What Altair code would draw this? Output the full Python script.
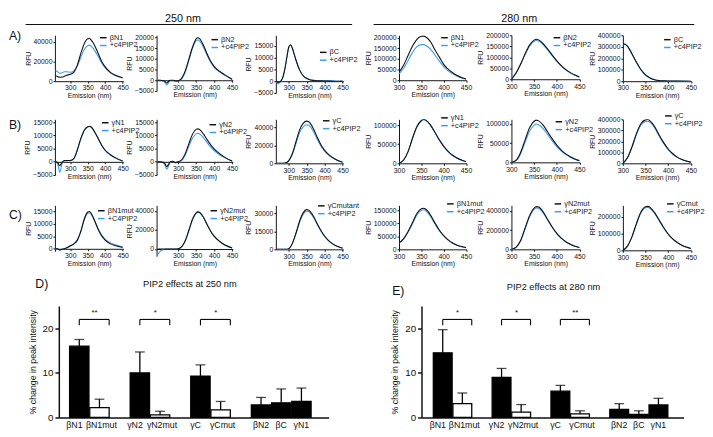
import altair as alt
import pandas as pd

FONT = "Liberation Sans"
BLACK = "#111111"
BLUE = "#3a9cf2"

HEADER_LABELS = ["250 nm", "280 nm"]
ROW_LABELS = ["A)", "B)", "C)", "D)", "E)"]
BAR_TITLES = ["PIP2 effects at 250 nm", "PIP2 effects at 280 nm"]
PIP = "+c4PIP2"
PIP_C = "+C4PIP2"
XTICKS = [300, 350, 400, 450]

# ---------------- spectra data (emission nm -> RFU) ----------------
G1 = [258, 264, 270, 276, 283, 290, 300, 310, 320, 330, 340, 350, 355, 360, 370, 380, 390, 400, 415, 430, 450]
G2 = [243, 250, 258, 264, 268, 272, 278, 285, 292, 300, 310, 320, 330, 340, 350, 355, 360, 370, 380, 390, 400, 415, 430, 450]
G3 = [265, 270, 275, 280, 285, 290, 295, 300, 305, 310, 315, 320, 330, 340, 350, 360, 370, 380, 400, 420, 435, 450]
G4 = [300, 310, 320, 330, 340, 350, 355, 360, 370, 380, 390, 400, 410, 420, 430, 440, 450]
G6 = [300, 305, 310, 315, 320, 330, 340, 350, 360, 370, 380, 390, 400, 420, 450]
G9 = [265, 275, 285, 292, 300, 310, 320, 330, 340, 350, 355, 360, 370, 380, 390, 400, 415, 430, 450]

P1_BLACK = [5700, 4500, 4000, 4200, 5000, 6000, 7000, 9000, 16000, 28000, 38000, 43000, 43200, 41500, 36000, 28000, 20000, 14500, 9000, 6000, 3500]
P1_BLUE = [11000, 9500, 8000, 8500, 9500, 9500, 9000, 10500, 15500, 24000, 32000, 36000, 36500, 35500, 31000, 25000, 18500, 13500, 8500, 5500, 3300]
P2_BLACK = [0, 0, -200, -600, -1300, -700, 0, 0, -300, -200, 1000, 4500, 10000, 15500, 19300, 19800, 19300, 16500, 12500, 9000, 6500, 4200, 2500, 500]
P2_BLUE = [0, 0, -300, -1200, -2200, -1500, -100, -100, -400, -300, 800, 4000, 9500, 15000, 18500, 18800, 18300, 15500, 11800, 8500, 6000, 3900, 2300, 400]
P3_BLACK = [0, -600, -300, 500, 2500, 6000, 10500, 14500, 15500, 14000, 11500, 9000, 4800, 2300, 1100, 500, 300, 200, 100, 0, 0, 0]
P3_BLUE = [0, -1200, -600, 300, 2300, 5800, 10300, 14300, 15400, 14000, 11600, 9100, 4900, 2400, 1300, 700, 400, 300, 200, 300, -100, 200]
P4_BLACK = [38000, 70000, 115000, 160000, 193000, 207000, 208000, 204000, 183000, 145000, 110000, 75000, 52000, 35000, 22000, 13000, 6000]
P4_BLUE = [30000, 55000, 92000, 130000, 158000, 168000, 168000, 164000, 148000, 120000, 91000, 64000, 44000, 30000, 20000, 11000, 6000]
P5_BLACK = [0, 28000, 68000, 115000, 155000, 178000, 182000, 179000, 162000, 137000, 110000, 84000, 62000, 44000, 30000, 19000, 10000]
P5_BLUE = [0, 27000, 66000, 112000, 151000, 173000, 176000, 174000, 158000, 133000, 107000, 82000, 60000, 43000, 29000, 18000, 9500]
P6_BLACK = [325000, 322000, 305000, 275000, 240000, 165000, 100000, 55000, 28000, 13000, 6000, 3000, 1500, 500, 0]
P6_BLUE = [323000, 320000, 303000, 273000, 238000, 163000, 99000, 54000, 27500, 13000, 6000, 3000, 1500, 500, 0]
P7_BLACK = [0, -300, -1500, -300, 500, 500, 500, 1200, 4500, 8800, 12000, 13300, 13500, 13200, 11300, 8800, 6300, 4400, 2700, 1500, 300]
P7_BLUE = [0, -800, -4000, -800, 300, 400, 500, 1100, 4300, 8600, 11800, 13200, 13400, 13100, 11200, 8700, 6200, 4300, 2600, 1400, 300]
P8_BLACK = [0, 0, -200, -800, -1800, -1200, 0, 200, -300, 0, 800, 3200, 7000, 10500, 12300, 12500, 12200, 10600, 8500, 6500, 4900, 3100, 1700, 300]
P8_BLUE = [0, 0, -300, -1500, -2800, -2000, -200, 200, -300, 0, 600, 2700, 6000, 9000, 10600, 10800, 10500, 9200, 7400, 5700, 4300, 2700, 1500, 250]
P9_BLACK = [0, 0, 0, 500, 3000, 11000, 24000, 37000, 44500, 47000, 46500, 44500, 37500, 28500, 20500, 14500, 8500, 4500, 1200]
P9_BLUE = [0, 0, 0, 400, 2800, 10000, 22000, 34000, 40500, 43000, 42700, 40800, 34500, 26200, 19000, 13500, 7800, 4200, 1100]
P10_BLACK = [0, 8000, 30000, 65000, 96000, 112000, 115000, 113000, 101000, 82000, 62000, 45000, 31000, 21000, 14000, 8500, 4500]
P10_BLUE = [0, 9000, 30000, 64000, 95000, 111000, 114000, 112000, 100000, 81000, 61000, 44000, 30000, 20500, 13500, 8000, 4300]
P11_BLACK = [0, 5000, 25000, 58000, 90000, 107000, 110000, 108000, 97000, 79000, 61000, 45000, 32000, 22000, 14500, 8500, 4500]
P11_BLUE = [0, 4500, 22000, 52000, 81000, 97000, 100000, 98000, 88000, 72000, 56000, 41000, 29000, 20000, 13500, 8000, 4200]
P12_BLACK = [0, 50000, 150000, 272000, 362000, 395000, 398000, 386000, 335000, 258000, 188000, 130000, 87000, 56000, 35000, 21000, 11000]
P12_BLUE = [0, 48000, 145000, 262000, 348000, 380000, 383000, 372000, 322000, 249000, 181000, 125000, 84000, 54000, 34000, 20000, 10500]
P13_BLACK = [0, 0, -400, -200, 0, 400, 1200, 2000, 3500, 7000, 12000, 14800, 15000, 14200, 11200, 7800, 5200, 3500, 2000, 1200, 500]
P13_BLUE = [0, -200, -600, -300, 0, 300, 1100, 1900, 3300, 6800, 11700, 14300, 14500, 13900, 11200, 8000, 5500, 3800, 2400, 1600, 800]
P14_BLACK = [0, 0, 0, 0, 0, 0, 0, 0, 0, 300, 2500, 9000, 20000, 31500, 38000, 39000, 38300, 33500, 26000, 19000, 13500, 8000, 4200, 1200]
P14_BLUE = [-6000, -2500, -500, 0, 0, 0, 0, 0, 0, 300, 2400, 8800, 19500, 31000, 37500, 38700, 38000, 33300, 26000, 19000, 13500, 8000, 4200, 1200]
P15_BLACK = [0, 0, 0, 0, 500, 5000, 13500, 23500, 30500, 33200, 33000, 31500, 27000, 21000, 15500, 11000, 6200, 3200, 900]
P15_BLUE = [0, 0, 0, 0, 450, 4800, 13000, 22500, 29200, 31800, 31700, 30300, 26200, 20500, 15200, 10800, 6100, 3100, 900]
P16_BLACK = [24000, 40000, 67000, 102000, 137000, 155000, 157000, 153000, 132000, 102000, 74000, 52000, 36000, 24000, 16000, 10500, 7000]
P16_BLUE = [24000, 39000, 65000, 98000, 131000, 149000, 151000, 147000, 127000, 99000, 72000, 51000, 35000, 23500, 15500, 10000, 6500]
P17_BLACK = [0, 20000, 90000, 220000, 350000, 430000, 445000, 440000, 390000, 310000, 232000, 166000, 116000, 79000, 52000, 33000, 20000]
P17_BLUE = [0, 19000, 86000, 212000, 338000, 417000, 432000, 427000, 380000, 303000, 227000, 163000, 114000, 78000, 51000, 32500, 19500]
P18_BLACK = [0, 25000, 82000, 162000, 232000, 262000, 264000, 258000, 226000, 182000, 137000, 98000, 69000, 47000, 31000, 19500, 11000]
P18_BLUE = [0, 24000, 79000, 157000, 225000, 255000, 257000, 251000, 221000, 178000, 134000, 96000, 67000, 46000, 30000, 19000, 10800]

# ---------------- bar chart data ----------------
CATS = ["βN1", "βN1mut", "γN2", "γN2mut", "γC", "γCmut", "βN2", "βC", "γN1"]
KINDS = ["wt", "mut", "wt", "mut", "wt", "mut", "wt", "wt", "wt"]
SLOTS = ["βN1", "βN1mut", " ", "γN2", "γN2mut", "  ", "γC", "γCmut", "   ", "βN2", "βC", "γN1"]
D_VALS = [16.0, 2.2, 10.0, 0.6, 9.3, 1.7, 2.8, 3.3, 3.6]
D_ERRS = [1.5, 1.9, 4.7, 0.8, 2.5, 1.9, 1.7, 3.1, 3.0]
E_VALS = [14.5, 3.1, 9.0, 1.2, 5.9, 0.8, 1.8, 0.7, 2.8]
E_ERRS = [5.2, 2.4, 2.0, 1.7, 1.3, 0.7, 1.3, 0.8, 1.5]
SIG_A = ["βN1", "γN2", "γC"]
SIG_B = ["βN1mut", "γN2mut", "γCmut"]
D_SIG = ["**", "*", "*"]
E_SIG = ["*", "*", "**"]
BAR_YTICKS = [0, 5, 10, 15, 20, 25]


def spectrum(xs, black, blue, name, pip, xdom, ydom, yticks, w, h, lx, ly):
    n = len(xs)
    df = pd.DataFrame({"nm": list(xs) * 2, "rfu": list(black) + list(blue),
                       "series": [name] * n + [pip] * n})
    off = -h * (0 - ydom[0]) / (ydom[1] - ydom[0])
    xenc = alt.X("nm:Q", scale=alt.Scale(domain=xdom, nice=False, zero=False),
                 axis=alt.Axis(values=XTICKS, title="Emission (nm)", offset=off,
                               labelFontSize=7, titleFontSize=7, tickSize=2,
                               labelPadding=1, titlePadding=1, labelOverlap=False,
                               labelFlush=False))
    yenc = alt.Y("rfu:Q", scale=alt.Scale(domain=ydom, nice=False, zero=False),
                 axis=alt.Axis(values=yticks, format="d", title="RFU",
                               labelFontSize=7, titleFontSize=7, tickSize=2,
                               labelPadding=1, titlePadding=2, labelOverlap=False))
    cenc = alt.Color("series:N", scale=alt.Scale(domain=[name, pip], range=[BLACK, BLUE]),
                     legend=alt.Legend(title=None, orient="none", legendX=lx, legendY=ly,
                                       symbolType="stroke", symbolStrokeWidth=1.5,
                                       symbolSize=45, labelFontSize=7.5, labelFont=FONT,
                                       rowPadding=0, padding=0, labelOffset=2,
                                       labelColor="#222222"))
    base = alt.Chart(df).mark_line(strokeWidth=1.1, interpolate="monotone", clip=True)
    lb = base.transform_filter(alt.datum.series == pip).encode(x=xenc, y=yenc, color=cenc)
    lk = base.transform_filter(alt.datum.series == name).encode(x=xenc, y=yenc, color=cenc)
    return alt.layer(lb, lk).properties(width=w, height=h)


def spacer(w, h, label=None, ly=0, top_mark=None):
    df = pd.DataFrame({"a": [0]})
    if label:
        ch = alt.Chart(df).mark_text(text=label, align="left", baseline="middle",
                                     fontSize=12.5, font=FONT, color=BLACK
                                     ).encode(x=alt.value(0), y=alt.value(ly))
    elif top_mark is not None:
        ch = alt.Chart(df).mark_point(opacity=0, size=1).encode(x=alt.value(0), y=alt.value(top_mark))
    else:
        ch = alt.Chart(df).mark_point(opacity=0, size=1).encode(x=alt.value(0), y=alt.value(0))
    return ch.properties(width=w, height=h)


WT_PAIR = "datum.value === 'βN1' || datum.value === 'γN2' || datum.value === 'γC'"
MUT_PAIR = "datum.value === 'βN1mut' || datum.value === 'γN2mut' || datum.value === 'γCmut'"


def bar_chart(vals, errs, sig, title, w, h, align_frac, label, lab_x, lab_y, t_x, t_y):
    df = pd.DataFrame({"cat": CATS, "value": vals, "err": errs, "kind": KINDS})
    sdf = pd.DataFrame({"a": SIG_A, "b": SIG_B, "txt": sig,
                        "y": [22.0] * 3, "yd": [20.7] * 3, "ty": [23.4] * 3})
    xs = alt.Scale(domain=SLOTS, paddingInner=0.04, paddingOuter=0.7, align=align_frac)
    xax = alt.Axis(title=None, ticks=False, labelAngle=0, labelFontSize=9,
                   labelPadding=3, domainWidth=1.5, labelColor=BLACK,
                   labelOffset={"condition": [{"test": WT_PAIR, "value": -5},
                                              {"test": MUT_PAIR, "value": 2}],
                                "value": 0})
    yax = alt.Axis(values=BAR_YTICKS, title="% change in peak intensity", labelFontSize=10,
                   titleFontSize=9, tickSize=4, domainWidth=1.5, tickWidth=1.5,
                   titlePadding=5, labelPadding=2)
    ys = alt.Scale(domain=[0, 25], nice=False)
    bars = alt.Chart(df).mark_bar(stroke="black", strokeWidth=1.3).encode(
        x=alt.X("cat:N", scale=xs, axis=xax),
        y=alt.Y("value:Q", scale=ys, axis=yax),
        fill=alt.Fill("kind:N", scale=alt.Scale(domain=["wt", "mut"], range=["black", "white"]),
                      legend=None))
    hi = alt.Chart(df).transform_calculate(hi="datum.value + datum.err")
    err = hi.mark_rule(color="black", strokeWidth=1.3).encode(
        x=alt.X("cat:N", scale=xs), y=alt.Y("value:Q", scale=ys), y2="hi:Q")
    cap = hi.mark_tick(color="black", thickness=1.3, size=10).encode(
        x=alt.X("cat:N", scale=xs), y=alt.Y("hi:Q", scale=ys))
    sb = alt.Chart(sdf)
    hline = sb.mark_rule(color="black", strokeWidth=1.1).encode(
        x=alt.X("a:N", scale=xs), x2=alt.X2("b:N", bandPosition=1), y=alt.Y("y:Q", scale=ys))
    lt = sb.mark_rule(color="black", strokeWidth=1.1).encode(
        x=alt.X("a:N", scale=xs), y=alt.Y("y:Q", scale=ys), y2="yd:Q")
    rt = sb.mark_rule(color="black", strokeWidth=1.1).encode(
        x=alt.X("b:N", scale=xs, bandPosition=1), y=alt.Y("y:Q", scale=ys), y2="yd:Q")
    st = sb.mark_text(fontSize=8, font=FONT, baseline="middle", align="center", color=BLACK).encode(
        x=alt.X("b:N", scale=xs, bandPosition=0.25), y=alt.Y("ty:Q", scale=ys), text="txt:N")
    one = pd.DataFrame({"a": [0]})
    lab = alt.Chart(one).mark_text(
        text=label, align="left", baseline="middle", fontSize=12.5, font=FONT, color=BLACK
    ).encode(x=alt.value(lab_x), y=alt.value(lab_y))
    ttl = alt.Chart(one).mark_text(
        text=title, align="center", baseline="middle", fontSize=9.5, font=FONT, color=BLACK
    ).encode(x=alt.value(t_x), y=alt.value(t_y))
    return alt.layer(bars, err, cap, hline, lt, rt, st, lab, ttl).properties(width=w, height=h)


# ---------------- layout ----------------
W = [70, 78, 69, 69, 70, 70]
GAPS = [34, 44, 57, 46, 44]
LEFT = 47
DOM250 = [[256, 452], [240, 452], [264, 452]]
DOM280 = [300, 451]


def panel_row(specs, label, label_y, pitch):
    cells = [spacer(LEFT, pitch, label, label_y)]
    for i, sp in enumerate(specs):
        if i > 0:
            cells.append(spacer(GAPS[i - 1], 1))
        xdom = DOM250[i] if i < 3 else DOM280
        cells.append(spectrum(sp[0], sp[1], sp[2], sp[3], sp[4], xdom, sp[5], sp[6],
                              W[i], sp[7], sp[8], sp[9]))
    return cells


T3 = [-5000, 0, 5000, 10000, 15000]
T_B = [0, 50000, 100000, 150000, 200000]

rowA = panel_row([
    (G1, P1_BLACK, P1_BLUE, "βN1", PIP, [0, 46500], [0, 20000, 40000], 47, 45, -2),
    (G2, P2_BLACK, P2_BLUE, "βN2", PIP, [-5000, 21000], [-5000, 0, 5000, 10000, 15000, 20000], 57, 55, 0),
    (G3, P3_BLACK, P3_BLUE, "βC", PIP, [-5000, 19500], T3, 59, 44, 13),
    (G4, P4_BLACK, P4_BLUE, "βN1", PIP, [0, 212000], T_B, 46, 42, -2),
    (G4, P5_BLACK, P5_BLUE, "βN2", PIP, [0, 200000], T_B, 45, 42, -2),
    (G6, P6_BLACK, P6_BLUE, "βC", PIP, [0, 400000], [0, 100000, 200000, 300000, 400000], 47, 41, 0),
], ROW_LABELS[0], 1, 86)

rowB = panel_row([
    (G1, P7_BLACK, P7_BLUE, "γN1", PIP, [-5000, 16100], T3, 57, 47, -1),
    (G2, P8_BLACK, P8_BLUE, "γN2", PIP, [-5000, 16100], T3, 57, 53, 1),
    (G9, P9_BLACK, P9_BLUE, "γC", PIP, [0, 49000], [0, 20000, 40000], 45, 47, -3),
    (G4, P10_BLACK, P10_BLUE, "γN1", PIP, [0, 115000], [0, 50000, 100000], 45, 42, -6),
    (G4, P11_BLACK, P11_BLUE, "γN2", PIP, [0, 112000], [0, 50000, 100000], 44, 44, -2),
    (G4, P12_BLACK, P12_BLUE, "γC", PIP, [0, 400000], [0, 100000, 200000, 300000, 400000], 45, 42, -8),
], ROW_LABELS[1], 6, 88)

rowC = panel_row([
    (G1, P13_BLACK, P13_BLUE, "βN1mut", PIP_C, [-1000, 17500], [0, 5000, 10000, 15000], 47, 43, 1),
    (G2, P14_BLACK, P14_BLUE, "γN2mut", PIP, [-7500, 45800], [0, 20000, 40000], 52, 54, 1),
    (G9, P15_BLACK, P15_BLUE, "γCmutant", PIP, [0, 36800], [0, 15000, 30000], 45, 42, -4),
    (G4, P16_BLACK, P16_BLUE, "βN1mut", PIP, [0, 168000], [0, 50000, 100000, 150000], 45, 48, -6),
    (G4, P17_BLACK, P17_BLUE, "γN2mut", PIP, [0, 458000], [0, 200000, 400000], 45, 43, -6),
    (G4, P18_BLACK, P18_BLUE, "γCmut", PIP, [0, 270000], [0, 100000, 200000], 46, 44, -6),
], ROW_LABELS[2], 10, 68)

hdf = pd.DataFrame({"a": [0]})
hdr = alt.layer(
    alt.Chart(hdf).mark_text(text=HEADER_LABELS[0], fontSize=11, font=FONT, align="center",
                             baseline="alphabetic", color=BLACK).encode(x=alt.value(178), y=alt.value(8)),
    alt.Chart(hdf).mark_text(text=HEADER_LABELS[1], fontSize=11, font=FONT, align="center",
                             baseline="alphabetic", color=BLACK).encode(x=alt.value(522), y=alt.value(8)),
    alt.Chart(hdf).mark_rule(color=BLACK, strokeWidth=1.2).encode(
        x=alt.value(17), x2=alt.value(351), y=alt.value(11)),
    alt.Chart(hdf).mark_rule(color=BLACK, strokeWidth=1.2).encode(
        x=alt.value(373), x2=alt.value(701), y=alt.value(11)),
).properties(width=LEFT, height=22)

header_row = [hdr] + [spacer(1, 1) for _ in range(11)]

grid = alt.concat(*(header_row + rowA + rowB + rowC), columns=12, spacing=0,
                  bounds="flush", align="each").resolve_scale(color="independent")

barD = bar_chart(D_VALS, D_ERRS, D_SIG, BAR_TITLES[0], 276, 114, 0.38,
                 ROW_LABELS[3], -24, -22, 134, -22)
barE = bar_chart(E_VALS, E_ERRS, E_SIG, BAR_TITLES[1], 268, 114, 0.43,
                 ROW_LABELS[4], -30, -15, 135, -19)
bars = alt.hconcat(spacer(51, 114, top_mark=-30), barD, spacer(95, 1), barE,
                   spacing=0, bounds="flush").resolve_scale(fill="independent")

chart = alt.vconcat(grid, bars, spacing=4
                    ).resolve_scale(color="independent", fill="independent"
                    ).properties(padding={"left": 0, "top": 0, "right": 0, "bottom": 0}
                    ).configure_view(strokeWidth=0
                    ).configure_axis(grid=False, labelFont=FONT, titleFont=FONT,
                                     titleFontWeight="normal", domainColor=BLACK,
                                     tickColor=BLACK, labelColor=BLACK, titleColor=BLACK
                    ).configure_text(font=FONT)

chart.save("out.html", embed_options={"renderer": "svg", "actions": False})
